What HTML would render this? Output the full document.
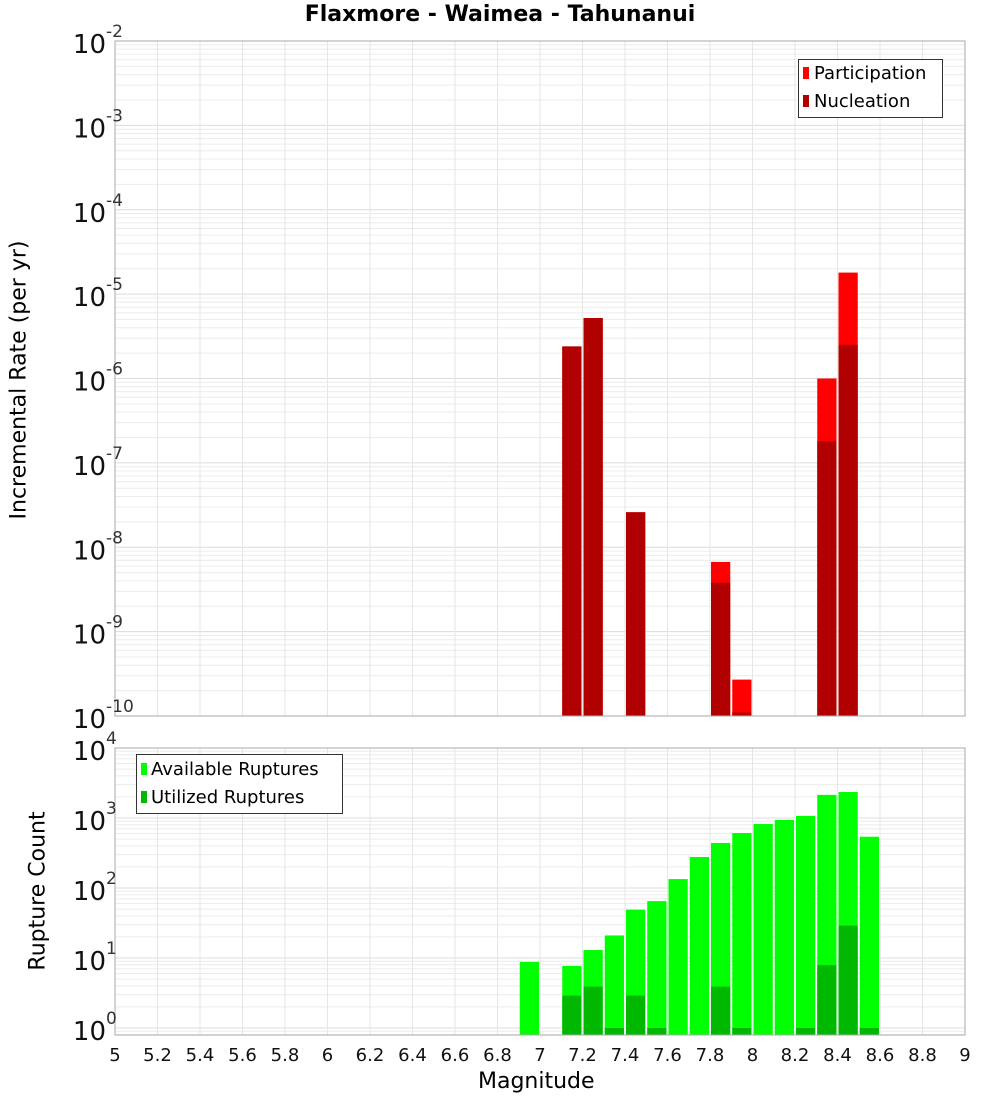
<!DOCTYPE html>
<html><head><meta charset="utf-8"><style>
body{margin:0;background:#fff;font-family:"Liberation Sans","DejaVu Sans",sans-serif}
svg text{font-family:"DejaVu Sans","Liberation Sans",sans-serif}
</style></head><body>
<svg id="c" width="1000" height="1100" xmlns="http://www.w3.org/2000/svg"></svg>
<script>
const mags1=[7.15,7.25,7.45,7.85,7.95,8.35,8.45];
const participation=[2.4e-6,5.2e-6,2.6e-8,6.7e-9,2.7e-10,1.0e-6,1.8e-5];
const nucleation=[2.4e-6,5.2e-6,2.6e-8,3.8e-9,1.1e-10,1.8e-7,2.5e-6];
const mags2=[6.95,7.15,7.25,7.35,7.45,7.55,7.65,7.75,7.85,7.95,8.05,8.15,8.25,8.35,8.45,8.55];
const available=[8.8,7.7,13,21,49,65,134,277,440,610,820,940,1070,2140,2350,540];
const utilized=[0,2.9,3.9,1,2.9,1,0,0,3.9,1,0,0,1,7.9,29,1];
const xTicks=["5","5.2","5.4","5.6","5.8","6","6.2","6.4","6.6","6.8","7","7.2","7.4","7.6","7.8","8","8.2","8.4","8.6","8.8","9"];
const topExp=[-2,-3,-4,-5,-6,-7,-8,-9,-10];
const botExp=[4,3,2,1,0];

const NS="http://www.w3.org/2000/svg";
const svg=document.getElementById('c');
function el(t,a,p){const e=document.createElementNS(NS,t);for(const k in a)e.setAttribute(k,a[k]);(p||svg).appendChild(e);return e;}
const X0=115,X1=965;
const xs=m=>X0+(m-5)*(X1-X0)/4;
const T={top:41,bot:716,lo:-10,hi:-2};
const B={top:748,bot:1035,lo:-0.1,hi:4};
const B0=1028,Bpd=70;
const yT=v=>T.bot-(Math.log10(v)-T.lo)*(T.bot-T.top)/(T.hi-T.lo);
const yB=v=>B0-Math.log10(v)*Bpd;

function grid(P,yf,lo,hi,g){
  for(let e=Math.floor(lo);e<=hi;e++)for(let k=1;k<10;k++){const v=k*Math.pow(10,e);const y=yf(v);if(y<P.top-0.5||y>P.bot+0.5)continue;
    const l=el('line',{x1:X0,x2:X1,y1:y,y2:y,stroke:k==1?'#dcdcdc':'#ececec','stroke-width':1},g);
    }
  xTicks.forEach(t=>{const x=xs(+t);const l=el('line',{x1:x,x2:x,y1:P.top,y2:P.bot,stroke:'#e6e6e6'},g);
    });
}
// top panel
const gt=el('g',{});
grid(T,yT,-10,-2,gt);
mags1.forEach((m,i)=>{
  const x=xs(m-0.05)+1,w=xs(m+0.05)-xs(m-0.05)-2;
  let y=yT(participation[i]);
  const r=el('rect',{x:x,y:y,width:w,height:T.bot-y,fill:'#ff0000'},gt);
  
  y=yT(nucleation[i]);
  const r2=el('rect',{x:x,y:y,width:w,height:T.bot-y,fill:'#b00000'},gt);
  
});
el('rect',{x:X0,y:T.top,width:X1-X0,height:T.bot-T.top,fill:'none',stroke:'#aaa'},gt);
topExp.forEach(e=>{const y=yT(Math.pow(10,e));
  const t=el('text',{x:106,y:y+12,'text-anchor':'end','font-size':26,fill:'#111'},gt);t.textContent='10';
  
  const s=el('text',{x:106,y:y-4,'font-size':17,fill:'#333'},gt);s.textContent=String(e);
  });
// bottom panel
const gb=el('g',{});
grid(B,yB,-1,4,gb);
mags2.forEach((m,i)=>{
  const x=xs(m-0.05)+1,w=xs(m+0.05)-xs(m-0.05)-2;
  if(available[i]>0){const y=yB(available[i]);const r=el('rect',{x:x,y:y,width:w,height:B.bot-y,fill:'#00ff00'},gb);
    }
  if(utilized[i]>0){const y=yB(utilized[i]);const r=el('rect',{x:x,y:y,width:w,height:B.bot-y,fill:'#00b800'},gb);
    }
});
el('rect',{x:X0,y:B.top,width:X1-X0,height:B.bot-B.top,fill:'none',stroke:'#aaa'},gb);
botExp.forEach(e=>{const y=yB(Math.pow(10,e));
  const t=el('text',{x:106,y:y+12,'text-anchor':'end','font-size':26,fill:'#111'},gb);t.textContent='10';
  
  const s=el('text',{x:106,y:y-4,'font-size':17,fill:'#333'},gb);s.textContent=String(e);
  });
xTicks.forEach(t=>{const x=xs(+t);const tx=el('text',{x:x,y:1061,'text-anchor':'middle','font-size':18,fill:'#111'});tx.textContent=t;
  });
</script>
<div style="position:absolute;left:0;top:0;width:1000px;text-align:center;top:2px;font:bold 22px 'DejaVu Sans','Liberation Sans',sans-serif">Flaxmore - Waimea - Tahunanui</div>
<div style="position:absolute;left:478px;top:1069px;font:22px 'DejaVu Sans',sans-serif">Magnitude</div>
<div style="position:absolute;left:19px;top:380px;transform:translate(-50%,-50%) rotate(-90deg);white-space:nowrap;font:22px 'DejaVu Sans',sans-serif">Incremental Rate (per yr)</div>
<div style="position:absolute;left:38px;top:891px;transform:translate(-50%,-50%) rotate(-90deg);white-space:nowrap;font:22px 'DejaVu Sans',sans-serif">Rupture Count</div>
<div style="position:absolute;left:798px;top:59px;width:143px;height:57px;border:1px solid #333;background:#fff;font:18px 'DejaVu Sans',sans-serif">
 <div style="position:absolute;left:4px;top:3px"><span style="display:inline-block;width:6px;height:12px;background:#f00;margin-right:5px"></span>Participation</div>
 <div style="position:absolute;left:4px;top:31px"><span style="display:inline-block;width:6px;height:12px;background:#b00000;margin-right:5px"></span>Nucleation</div>
</div>
<div style="position:absolute;left:136px;top:754px;width:205px;height:58px;border:1px solid #333;background:#fff;font:18px 'DejaVu Sans',sans-serif">
 <div style="position:absolute;left:4px;top:4px;white-space:nowrap"><span style="display:inline-block;width:6px;height:12px;background:#0f0;margin-right:4px"></span>Available Ruptures</div>
 <div style="position:absolute;left:4px;top:32px;white-space:nowrap"><span style="display:inline-block;width:6px;height:12px;background:#00b800;margin-right:4px"></span>Utilized Ruptures</div>
</div>
</body></html>
